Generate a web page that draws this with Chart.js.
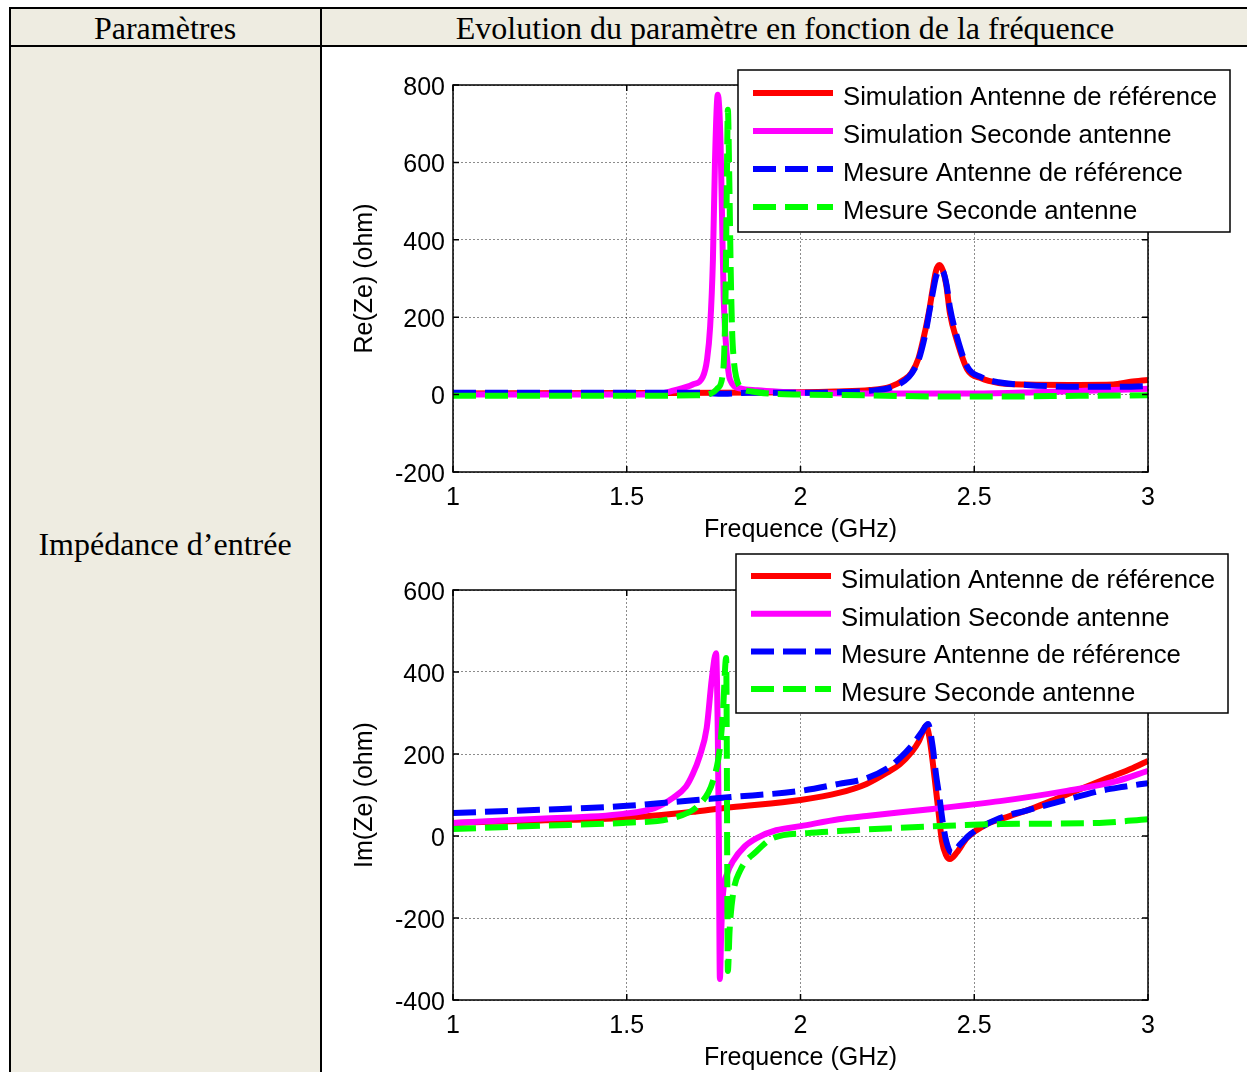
<!DOCTYPE html>
<html lang="fr">
<head>
<meta charset="utf-8">
<title>Impédance d'entrée</title>
<script src="https://cdn.jsdelivr.net/npm/chart.js@4.4.1/dist/chart.umd.min.js"></script>
<style>
  html, body { margin: 0; padding: 0; background: #fff; }
  body {
    width: 1247px; height: 1072px; position: relative; overflow: hidden;
    font-family: "Liberation Serif", "Times New Roman", serif; color: #000;
  }
  .cell { position: absolute; box-sizing: border-box; border: 2px solid #000; }
  .beige { background: #EEECE1; }
  .label { position: absolute; font-size: 32px; white-space: nowrap; transform: translate(-50%, -50%); }
  .plot { position: absolute; }
</style>
</head>
<body>

<!-- tableau -->
<div class="cell beige" style="left:9px; top:7px; width:313px; height:40px;"></div>
<div class="cell beige" style="left:320px; top:7px; width:940px; height:40px;"></div>
<div class="cell beige" style="left:9px; top:45px; width:313px; height:1040px;"></div>
<div class="cell" style="left:320px; top:45px; width:940px; height:1040px;"></div>

<div class="label" style="left:165px; top:28px;">Paramètres</div>
<div class="label" style="left:785px; top:28px;">Evolution du paramètre en fonction de la fréquence</div>
<div class="label" style="left:165px; top:544px;">Impédance d’entrée</div>

<div class="plot" style="left:330px; top:52px;"><canvas id="reChart" width="913" height="496"></canvas></div>
<div class="plot" style="left:330px; top:550px;"><canvas id="imChart" width="913" height="526"></canvas></div>

<script>
// Valeurs (fréquence en GHz, impédance en ohm)
const seriesLabels = [
  "Simulation Antenne de référence",
  "Simulation Seconde antenne",
  "Mesure Antenne de référence",
  "Mesure Seconde antenne"
];
const xTicks = [1, 1.5, 2, 2.5, 3];
const reTicks = [-200, 0, 200, 400, 600, 800];
const imTicks = [-400, -200, 0, 200, 400, 600];

// ——— Re(Ze) ———
const reSimRefFreq = [1.0, 1.5, 2.0, 2.1, 2.2, 2.26, 2.3, 2.32, 2.34, 2.36, 2.37, 2.38, 2.39, 2.40, 2.41, 2.42, 2.43, 2.45, 2.48, 2.52, 2.57, 2.65, 2.8, 2.9, 2.95, 3.0];
const reSimRefVal  = [3, 4, 6, 8, 12, 21, 40, 57, 95, 170, 215, 270, 320, 335, 320, 280, 210, 140, 65, 42, 30, 26, 25, 26, 33, 38];

const reSimSecFreq = [1.0, 1.5, 1.6, 1.633, 1.69, 1.719, 1.731, 1.740, 1.748, 1.754, 1.762, 1.770, 1.775, 1.779, 1.784, 1.79, 1.797, 1.826, 1.875, 1.95, 2.0, 2.2, 2.5, 2.7, 2.9, 3.0];
const reSimSecVal  = [0, 0, 3, 10, 26, 46, 90, 176, 349, 607, 775, 650, 420, 250, 150, 80, 39, 16, 11, 7, 5, 3, 3, 7, 12, 15];

const reMesRefFreq = [1.0, 1.7, 1.78, 1.85, 2.0, 2.1, 2.2, 2.26, 2.3, 2.32, 2.34, 2.36, 2.37, 2.38, 2.39, 2.40, 2.41, 2.42, 2.43, 2.45, 2.48, 2.52, 2.57, 2.65, 2.8, 2.9, 3.0];
const reMesRefVal  = [5, 5, 2, 5, 5, 6, 10, 18, 36, 55, 90, 160, 210, 260, 305, 322, 318, 285, 225, 150, 72, 45, 32, 25, 20, 20, 22];

const reMesSecFreq = [1.0, 1.5, 1.7, 1.74, 1.76, 1.775, 1.781, 1.785, 1.788, 1.791, 1.795, 1.799, 1.803, 1.808, 1.815, 1.826, 1.86, 1.92, 2.0, 2.2, 2.4, 2.6, 2.8, 3.0];
const reMesSecVal  = [-3, -3, -2, 2, 15, 45, 120, 300, 550, 736, 560, 330, 170, 90, 45, 20, 8, 2, 0, -2, -5, -5, -3, -2];

// ——— Im(Ze) ———
const imSimRefFreq = [1.0, 1.25, 1.49, 1.7, 1.8, 2.0, 2.11, 2.19, 2.25, 2.286, 2.32, 2.34, 2.353, 2.361, 2.37, 2.387, 2.397, 2.407, 2.418, 2.43, 2.45, 2.479, 2.536, 2.6, 2.67, 2.74, 2.813, 2.88, 2.957, 3.0];
const imSimRefVal  = [32, 38, 44, 60, 70, 88, 105, 127, 155, 175, 205, 230, 256, 268, 245, 134, 60, -12, -45, -56, -40, -5, 29, 48, 68, 92, 117, 140, 166, 183];

const imSimSecFreq = [1.0, 1.25, 1.49, 1.58, 1.633, 1.67, 1.69, 1.71, 1.73, 1.745, 1.757, 1.762, 1.765, 1.768, 1.772, 1.777, 1.79, 1.806, 1.84, 1.874, 1.93, 2.0, 2.11, 2.19, 2.38, 2.574, 2.766, 2.91, 3.0];
const imSimSecVal  = [32, 42, 54, 68, 93, 120, 151, 195, 263, 385, 446, 250, 0, -349, -230, -141, -90, -61, -25, -5, 14, 24, 41, 49, 66, 85, 110, 134, 159];

const imMesRefFreq = [1.0, 1.25, 1.49, 1.7, 1.8, 2.0, 2.11, 2.19, 2.25, 2.286, 2.32, 2.35, 2.367, 2.38, 2.39, 2.40, 2.41, 2.42, 2.436, 2.46, 2.49, 2.574, 2.65, 2.718, 2.79, 2.862, 2.93, 3.0];
const imMesRefVal  = [56, 64, 73, 88, 95, 110, 127, 141, 165, 190, 220, 255, 273, 220, 150, 93, 30, -15, -41, -20, 5, 44, 62, 78, 94, 110, 120, 129];

const imMesSecFreq = [1.0, 1.25, 1.49, 1.633, 1.71, 1.748, 1.768, 1.777, 1.786, 1.788, 1.789, 1.791, 1.796, 1.806, 1.826, 1.874, 1.921, 2.02, 2.11, 2.286, 2.574, 2.86, 3.0];
const imMesSecVal  = [17, 25, 32, 44, 78, 134, 215, 305, 434, 200, -50, -329, -230, -141, -85, -37, -5, 7, 12, 20, 29, 32, 41];

const lineColors = ["#FF0000", "#FF00FF", "#0000FF", "#00FF00"];
const lineDashes = [[], [], [23, 9], [23, 9]];

const FONT = '"Liberation Sans", Arial, Helvetica, sans-serif';
Chart.defaults.font.family = FONT;
Chart.defaults.font.size = 25;
Chart.defaults.color = "#000";

function toPoints(freq, vals) {
  return freq.map((f, i) => ({ x: f, y: vals[i] }));
}

function buildDatasets(series) {
  return series.map((s, i) => ({
    label: seriesLabels[i],
    data: toPoints(s[0], s[1]),
    borderColor: lineColors[i],
    backgroundColor: lineColors[i],
    borderWidth: 6,
    borderDash: lineDashes[i],
    borderCapStyle: "butt",
    borderJoinStyle: "round",
    pointRadius: 0,
    cubicInterpolationMode: "monotone",
    order: 3 - i   // la dernière courbe passe au-dessus, comme sous MATLAB
  }));
}

// cadre noir + petites graduations intérieures
const frameBox = {
  id: "frameBox",
  afterDatasetsDraw(chart) {
    const { ctx, chartArea: a, scales } = chart;
    const tl = 6;
    ctx.save();
    ctx.strokeStyle = "#000";
    ctx.lineWidth = 1.5;
    ctx.setLineDash([]);
    ctx.strokeRect(a.left, a.top, a.right - a.left, a.bottom - a.top);
    ctx.beginPath();
    scales.x.ticks.forEach(t => {
      const px = scales.x.getPixelForValue(t.value);
      ctx.moveTo(px, a.bottom); ctx.lineTo(px, a.bottom - tl);
      ctx.moveTo(px, a.top); ctx.lineTo(px, a.top + tl);
    });
    scales.y.ticks.forEach(t => {
      const py = scales.y.getPixelForValue(t.value);
      ctx.moveTo(a.left, py); ctx.lineTo(a.left + tl, py);
      ctx.moveTo(a.right, py); ctx.lineTo(a.right - tl, py);
    });
    ctx.stroke();
    ctx.restore();
  }
};

// légende encadrée, placée comme dans la figure d'origine
const boxLegend = {
  id: "boxLegend",
  afterDraw(chart, args, opts) {
    const ctx = chart.ctx;
    ctx.save();
    ctx.fillStyle = "#fff";
    ctx.fillRect(opts.x, opts.y, opts.w, opts.h);
    ctx.strokeStyle = "#000";
    ctx.lineWidth = 1.5;
    ctx.strokeRect(opts.x, opts.y, opts.w, opts.h);
    ctx.font = "25.7px " + FONT;
    ctx.textBaseline = "middle";
    chart.data.datasets.forEach((ds, i) => {
      const y = opts.rowY + i * opts.rowStep;
      ctx.strokeStyle = ds.borderColor;
      ctx.lineWidth = ds.borderWidth;
      ctx.setLineDash(ds.borderDash || []);
      ctx.beginPath();
      ctx.moveTo(opts.sampleX, y);
      ctx.lineTo(opts.sampleX + opts.sampleW, y);
      ctx.stroke();
      ctx.setLineDash([]);
      ctx.fillStyle = "#000";
      ctx.fillText(ds.label, opts.textX, y + 5);
    });
    ctx.restore();
  }
};

function makeChart(id, series, yTicks, yTitle, padTop, legendOpts) {
  const ctx = document.getElementById(id).getContext("2d");
  return new Chart(ctx, {
    type: "line",
    data: { datasets: buildDatasets(series) },
    options: {
      responsive: false,
      animation: false,
      parsing: false,
      layout: { padding: { left: 0, right: 95, top: padTop, bottom: 0 } },
      plugins: {
        legend: { display: false },
        tooltip: { enabled: false },
        boxLegend: legendOpts
      },
      scales: {
        x: {
          type: "linear",
          min: xTicks[0],
          max: xTicks[xTicks.length - 1],
          afterBuildTicks: s => { s.ticks = xTicks.map(v => ({ value: v })); },
          afterFit: s => { s.height = 76; },
          ticks: { padding: 11, maxRotation: 0, autoSkip: false, font: { size: 25 }, callback: v => String(v) },
          grid: { color: "rgba(0,0,0,0.45)", lineWidth: 1, drawTicks: false },
          border: { display: false, dash: [2, 2] },
          title: { display: true, text: "Frequence (GHz)", font: { size: 25 }, padding: { top: 0, bottom: 3 } }
        },
        y: {
          type: "linear",
          min: yTicks[0],
          max: yTicks[yTicks.length - 1],
          afterBuildTicks: s => { s.ticks = yTicks.map(v => ({ value: v })); },
          afterFit: s => { s.width = 123; },
          ticks: { padding: 8, labelOffset: 3, font: { size: 25 }, callback: v => String(v) },
          grid: { color: "rgba(0,0,0,0.45)", lineWidth: 1, drawTicks: false },
          border: { display: false, dash: [2, 2] },
          title: { display: true, text: yTitle, font: { size: 25 }, padding: { top: 20, bottom: 0 } }
        }
      }
    },
    plugins: [frameBox, boxLegend]
  });
}

makeChart("reChart", [
  [reSimRefFreq, reSimRefVal],
  [reSimSecFreq, reSimSecVal],
  [reMesRefFreq, reMesRefVal],
  [reMesSecFreq, reMesSecVal]
], reTicks, "Re(Ze) (ohm)", 33,
  { x: 408, y: 18, w: 492, h: 162, rowY: 41, rowStep: 38, sampleX: 423, sampleW: 80, textX: 513 });

makeChart("imChart", [
  [imSimRefFreq, imSimRefVal],
  [imSimSecFreq, imSimSecVal],
  [imMesRefFreq, imMesRefVal],
  [imMesSecFreq, imMesSecVal]
], imTicks, "Im(Ze) (ohm)", 40,
  { x: 406, y: 4, w: 492, h: 159, rowY: 26, rowStep: 37.7, sampleX: 421, sampleW: 80, textX: 511 });
</script>
</body>
</html>
